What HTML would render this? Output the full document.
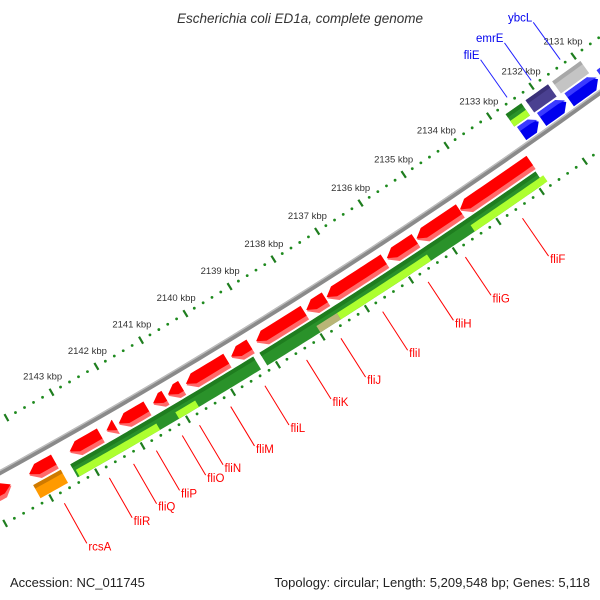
<!DOCTYPE html>
<html><head><meta charset="utf-8"><style>
html,body{margin:0;padding:0;background:#fff}
svg{display:block}
text{font-family:"Liberation Sans",sans-serif}
</style></head><body>
<svg id="map" width="600" height="600" viewBox="0 0 600 600" xmlns="http://www.w3.org/2000/svg">
<rect x="0" y="0" width="600" height="600" fill="#fff"/>
<g id="layer"></g>
<text x="300" y="23" text-anchor="middle" font-size="13.5" font-style="italic" fill="#333">Escherichia coli ED1a, complete genome</text>
<text x="10" y="587" font-size="13" fill="#222">Accession: NC_011745</text>
<text x="590" y="587" text-anchor="end" font-size="13" fill="#222">Topology: circular; Length: 5,209,548 bp; Genes: 5,118</text>
</svg>
<script>
// ---- data (kbp) ----
const tickMin = 2127;
const tickMax = 2147;
const labelMin = 2131;
const labelMax = 2143;
const redMin = [2145.55, 2143.60, 2142.59, 2142.26, 2141.56, 2141.16, 2140.79, 2139.78, 2139.26, 2138.04, 2137.56, 2136.22, 2135.51, 2134.49, 2132.85];
const redMax = [2144.55, 2144.15, 2143.26, 2142.45, 2142.18, 2141.42, 2141.09, 2140.69, 2139.68, 2139.12, 2137.99, 2137.53, 2136.16, 2135.48, 2134.48];
const redDir = [-1, 1, 1, 1, 1, 1, 1, 1, 1, 1, 1, 1, 1, 1, 1];
const greenMin = [2139.32, 2132.88];
const greenMax = [2143.37, 2139.18];
const lightMin = [2141.56, 2140.70, 2135.48, 2132.80];
const lightMax = [2143.33, 2141.14, 2137.53, 2134.48];
const tanMin = [2137.53];
const tanMax = [2137.99];
const orangeMin = [2143.58];
const orangeMax = [2144.18];
const cyanMin = [2144.78];
const cyanMax = [2145.15];
const upperNames = ["ybcL", "emrE", "fliE"];
const upperMin = [2130.95, 2131.72, 2132.35];
const upperMax = [2131.62, 2132.25, 2132.72];
const blueMin = [2132.28, 2131.63, 2130.88, 2130.0];
const blueMax = [2132.68, 2132.21, 2131.56, 2130.8];
const redLabelNames = ["rcsA","fliR","fliQ","fliP","fliO","fliN","fliM","fliL","fliK","fliJ","fliI","fliH","fliG","fliF"];
const redLabelK = [2143.83, 2142.85, 2142.32, 2141.82, 2141.25, 2140.87, 2140.18, 2139.42, 2138.49, 2137.72, 2136.78, 2135.75, 2134.90, 2133.59];
const blueLabelNames = ["fliE","emrE","ybcL"];
const blueLabelK = [2132.51, 2131.94, 2131.25];

// ---- geometry ----
const CX=-2759, CY=-4546, R0=5727, K0=2141, PHI0=30.69, DPK=0.522;
function pt(k,d){const p=(PHI0-(k-K0)*DPK)*Math.PI/180;const r=R0+d;return [CX+r*Math.sin(p),CY+r*Math.cos(p)];}
const NS="http://www.w3.org/2000/svg";
const layer=document.getElementById('layer');
function mk(tag,attrs){const e=document.createElementNS(NS,tag);for(const a in attrs)e.setAttribute(a,attrs[a]);layer.appendChild(e);return e;}
function f(p){return p[0].toFixed(2)+','+p[1].toFixed(2);}
function band(k1,k2,d1,d2,dir,head,tipD){
  const lo=Math.min(k1,k2),hi=Math.max(k1,k2);
  let bLo=lo,bHi=hi;
  if(dir===1)bHi=Math.max(lo,hi-head);
  if(dir===-1)bLo=Math.min(hi,lo+head);
  const n=Math.max(2,Math.ceil((bHi-bLo)/0.1));
  const pts=[];
  for(let i=0;i<=n;i++)pts.push(pt(bLo+(bHi-bLo)*i/n,d1));
  if(dir===1)pts.push(pt(hi,tipD));
  for(let i=n;i>=0;i--)pts.push(pt(bLo+(bHi-bLo)*i/n,d2));
  if(dir===-1)pts.push(pt(lo,tipD));
  return 'M'+pts.map(f).join(' L')+' Z';
}
function arc(k1,k2,d){const pts=[];for(let k=k1;k<=k2+1e-9;k+=0.25)pts.push(pt(k,d));return 'M'+pts.map(f).join(' L');}

// backbone
let e=mk('path',{d:arc(2126,2148,0),fill:'none',stroke:'#8a8a8a','stroke-width':5});


e=mk('path',{d:arc(2126,2148,-1.8),fill:'none',stroke:'#bdbdbd','stroke-width':1.4});



// ticks
const rings=[-45,47];
for(const rd of rings){
  for(let i=tickMin*5;i<=tickMax*5;i++){
    const k=i/5;
    if(i%5===0){
      const a=pt(k,rd-4),b=pt(k,rd+4);
      e=mk('line',{x1:a[0],y1:a[1],x2:b[0],y2:b[1],stroke:'#1e7d1e','stroke-width':2.2});
      
      
    }else{
      const c=pt(k,rd);
      e=mk('circle',{cx:c[0],cy:c[1],r:1.4,fill:'#1e8a1e'});
      
      
    }
  }
}
for(let k=labelMin;k<=labelMax;k++){
  const c=pt(k,-63);
  e=mk('text',{x:c[0],y:c[1]+3,'text-anchor':'middle','font-size':'9.5','fill':'#333'});
  e.textContent=k+' kbp';
  
  
}

// red genes
for(let i=0;i<redMin.length;i++){
  e=mk('path',{d:band(redMin[i],redMax[i],9,25,redDir[i],0.18,17),fill:'#ff6a6a'});
  
  
  e=mk('path',{d:band(redMin[i],redMax[i],9,20.5,redDir[i],0.18,15.5),fill:'#ff0000'});
  
  
}
// green genes
for(let i=0;i<greenMin.length;i++){
  e=mk('path',{d:band(greenMin[i],greenMax[i],27,42,0,0,34),fill:'#2a922a'});
  
  
  e=mk('path',{d:band(greenMin[i],greenMax[i],27,31,0,0,29),fill:'#1f7d1f'});
  
  
}
for(let i=0;i<lightMin.length;i++){
  e=mk('path',{d:band(lightMin[i],lightMax[i],34.5,42,0,0,38),fill:'#adff2f'});
  
  
}
for(let i=0;i<tanMin.length;i++){
  e=mk('path',{d:band(tanMin[i],tanMax[i],34.5,42,0,0,38),fill:'#b9b576'});
  
  
}
for(let i=0;i<orangeMin.length;i++){
  e=mk('path',{d:band(orangeMin[i],orangeMax[i],27,42,0,0,34),fill:'#ff9a00'});
  
  
  e=mk('path',{d:band(orangeMin[i],orangeMax[i],27,31,0,0,29),fill:'#cf7a00'});
  
  
}
for(let i=0;i<cyanMin.length;i++){
  e=mk('path',{d:band(cyanMin[i],cyanMax[i],-19,-5,-1,0.12,-12),fill:'#22aaee'});
  
  
}
// upper band genes
const upperFill=['#c4c4c4','#4a4090','#2a922a'];
const upperTop=['#a8a8a8','#3a3078','#1f7d1f'];
for(let i=0;i<upperMin.length;i++){
  e=mk('path',{d:band(upperMin[i],upperMax[i],-37,-22,0,0,-30),fill:upperFill[i]});
  
  
  e=mk('path',{d:band(upperMin[i],upperMax[i],-37,-33,0,0,-35),fill:upperTop[i]});
  
  
}
e=mk('path',{d:band(upperMin[2],upperMax[2],-29,-22,0,0,-26),fill:'#adff2f'});


for(let i=0;i<blueMin.length;i++){
  e=mk('path',{d:band(blueMin[i],blueMax[i],-20,-4,-1,0.15,-12),fill:'#0000ee'});
  
  
  e=mk('path',{d:band(blueMin[i],blueMax[i],-20,-15,-1,0.15,-14),fill:'#3a3aff'});
  
  
}
// labels
for(let i=0;i<redLabelNames.length;i++){
  const a=pt(redLabelK[i],58),b=pt(redLabelK[i],104);
  e=mk('line',{x1:a[0],y1:a[1],x2:b[0],y2:b[1],stroke:'#ff0000','stroke-width':1});
  
  
  e=mk('text',{x:b[0]+1.5,y:b[1]+7,'font-size':'11.5',fill:'#ff0000'});
  e.textContent=redLabelNames[i];
  
  
}
for(let i=0;i<blueLabelNames.length;i++){
  const a=pt(blueLabelK[i],-50),b=pt(blueLabelK[i],-96);
  e=mk('line',{x1:a[0],y1:a[1],x2:b[0],y2:b[1],stroke:'#2020ff','stroke-width':1});
  
  
  e=mk('text',{x:b[0]-1,y:b[1]-1,'text-anchor':'end','font-size':'11.5',fill:'#0000ee'});
  e.textContent=blueLabelNames[i];
  
  
}
</script>
</body></html>
